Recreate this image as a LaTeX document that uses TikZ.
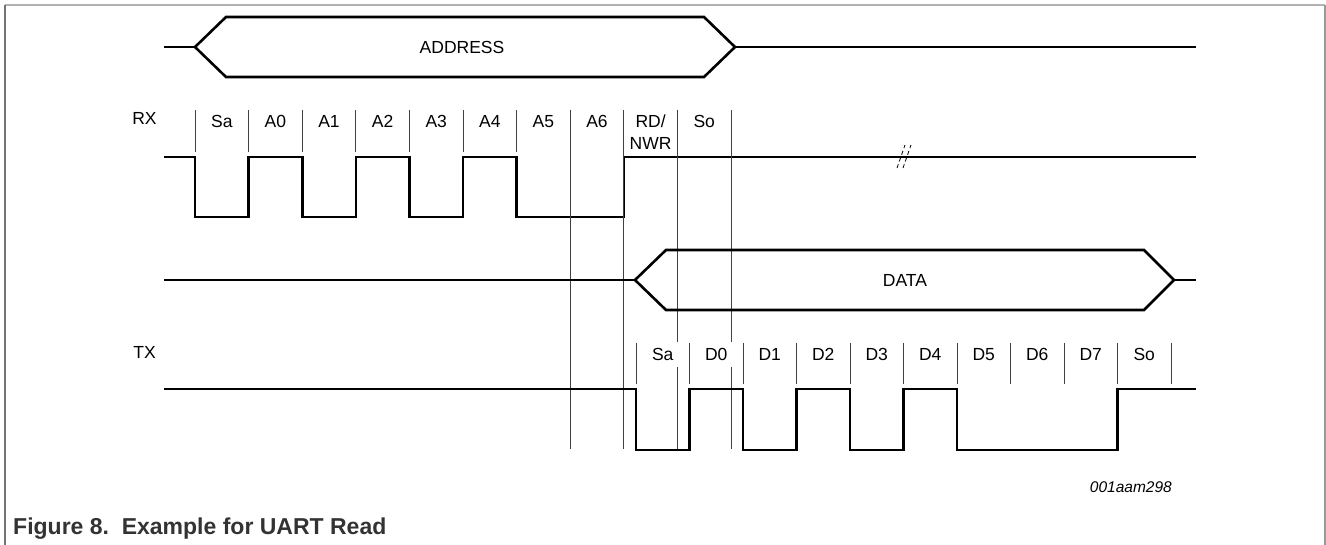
\documentclass[tikz,border=0pt]{standalone}
\usepackage{fontspec}
\setmainfont{Liberation Sans}
\begin{document}
\begin{tikzpicture}[x=1pt,y=-1pt,
  sig/.style={line width=2.6pt, line join=miter},
  thinln/.style={line width=0.8pt, draw=black!75},
  lbl/.style={font=\fontsize{17.5}{22}\selectfont, inner sep=0pt},
  bitlbl/.style={lbl, anchor=base},
  frame/.style={line width=1.5pt},
]
\useasboundingbox (0,0) rectangle (1326,545);
% frame
\draw[frame, draw=black!30] (5,5) -- (1325,5);
\draw[frame, draw=black!55] (5,5) -- (5,545);
\draw[frame, draw=black!40] (1325,5) -- (1325,545);

% ADDRESS bus
\coordinate (aL) at (195,47);
\coordinate (aR) at (735,47);
\draw[sig] (164,47) -- (aL);
\draw[sig] (aL) -- (226,17) -- (704,17) -- (aR) -- (704,77) -- (226,77) -- cycle;
\draw[sig] (aR) -- (1196,47);
\node[lbl] (addr) at (462,47) {ADDRESS};

% RX
\node[bitlbl] (rx) at (144.5,124.5) {RX};
\foreach \i in {0,...,10} \draw[thinln] ({195+53.6*\i},110) -- ({195+53.6*\i},152);
\foreach \t [count=\i from 0] in {Sa,A0,A1,A2,A3,A4,A5,A6}
  \node[bitlbl] (rxb\i) at ({221.8+53.6*\i},127.5) {\t};
\node[lbl, align=center] (rxrw) at (650.6,132) {RD/\\NWR};
\node[bitlbl] (rxso) at (704.2,127.5) {So};
\draw[sig] (164,157) -- (195,157) -- (195,217) -- (248.6,217) -- (248.6,157) -- (302.2,157) -- (302.2,217) -- (355.8,217) -- (355.8,157) -- (409.4,157) -- (409.4,217) -- (463,217) -- (463,157) -- (516.6,157) -- (516.6,217) -- (623.8,217) -- (623.8,157) -- (1196,157);
% break mark
\draw[thinln, draw=black, dash pattern=on 4pt off 3pt] (897,168) -- (905,145);
\draw[thinln, draw=black, dash pattern=on 4pt off 3pt] (903,168) -- (911,145);

% long guide lines
\draw[thinln] (570.2,110) -- (570.2,449);
\draw[thinln] (623.8,110) -- (623.8,449);
\draw[thinln] (677.4,110) -- (677.4,342);
\draw[thinln] (677.4,367) -- (677.4,449);
\draw[thinln] (731,110) -- (731,342);
\draw[thinln] (731,367) -- (731,449);

% DATA bus
\coordinate (dL) at (635,280);
\coordinate (dR) at (1174,280);
\draw[sig] (164,280) -- (dL);
\draw[sig] (dL) -- (666,250) -- (1144,250) -- (dR) -- (1144,310) -- (666,310) -- cycle;
\draw[sig] (dR) -- (1196,280);
\node[lbl] (data) at (905,280) {DATA};

% TX
\node[bitlbl] (tx) at (144.5,358.5) {TX};
\foreach \i in {0,...,10} \draw[thinln] ({636+53.5*\i},343) -- ({636+53.5*\i},384);
\foreach \t [count=\i from 0] in {Sa,D0,D1,D2,D3,D4,D5,D6,D7,So}
  \node[bitlbl] (txb\i) at ({662.75+53.5*\i},360.5) {\t};
\draw[sig] (164,389) -- (636,389) -- (636,450) -- (689.5,450) -- (689.5,389) -- (743,389) -- (743,450) -- (796.5,450) -- (796.5,389) -- (850,389) -- (850,450) -- (903.5,450) -- (903.5,389) -- (957,389) -- (957,450) -- (1117.5,450) -- (1117.5,389) -- (1196,389);

% id and caption
\node[font=\fontsize{15.5}{18}\selectfont\itshape, anchor=east, inner sep=0pt] (id) at (1172,487) {001aam298};
\node[font=\fontsize{23}{27}\selectfont\bfseries, text=black!80, anchor=base west, inner sep=0pt] (cap) at (13,534) {Figure 8.\ \ Example for UART Read};
\end{tikzpicture}
\end{document}
